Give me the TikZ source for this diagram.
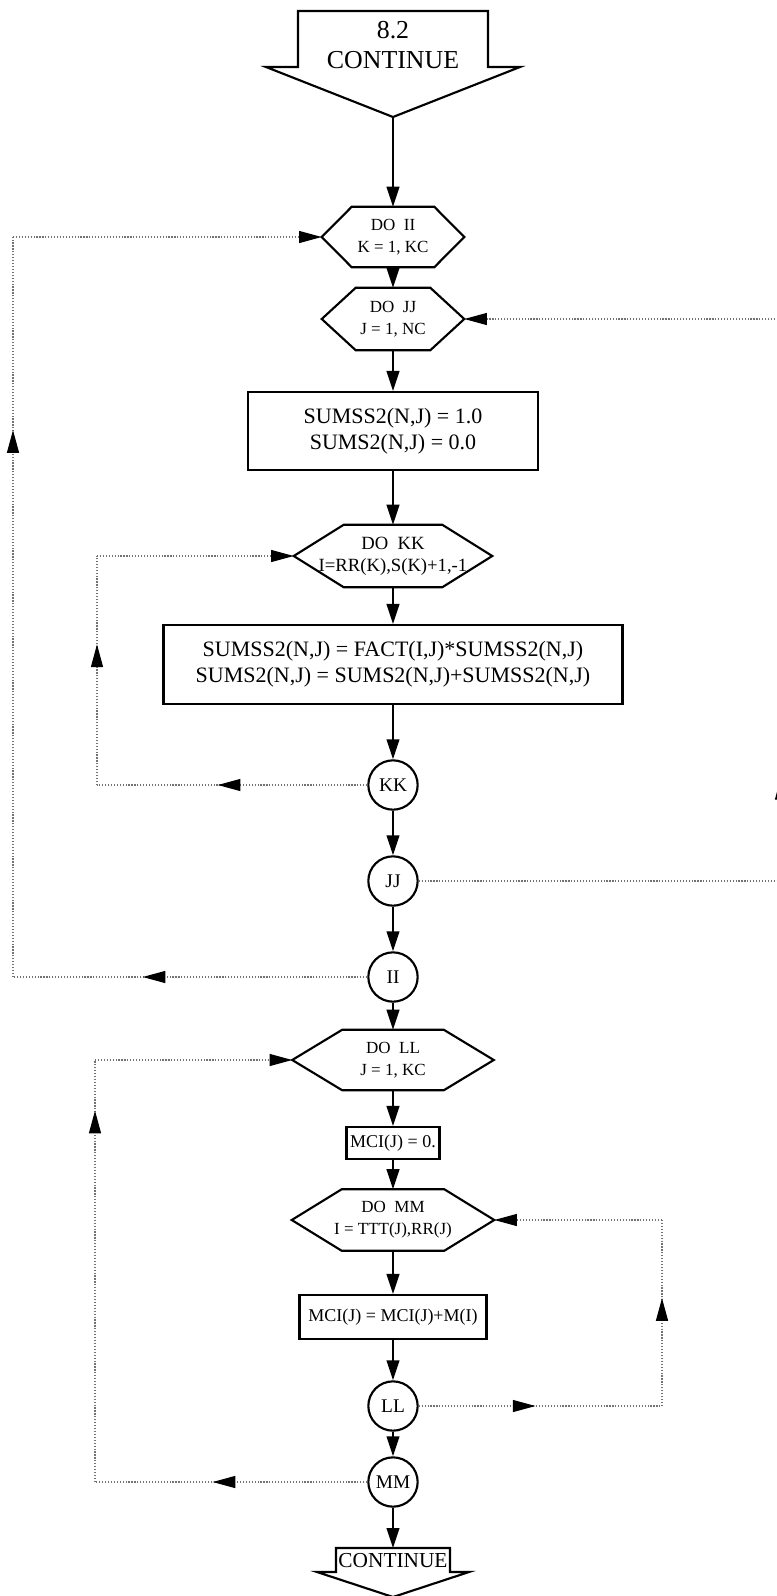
\documentclass[tikz,border=0pt]{standalone}
\usepackage{fontspec}
\setmainfont{Liberation Serif}
\usetikzlibrary{arrows.meta,decorations.markings}
\newcommand\hexfont{\fontsize{12.75pt}{16.5pt}\selectfont}
\newcommand\kkfont{\fontsize{14pt}{16.5pt}\selectfont}
\newcommand\boxfont{\fontsize{16.5pt}{19.5pt}\selectfont}
\newcommand\smallboxfont{\fontsize{13.5pt}{16pt}\selectfont}
\newcommand\bigfont{\fontsize{19.4pt}{22.5pt}\selectfont}
\newcommand\botfont{\fontsize{16pt}{18pt}\selectfont}
\newcommand\circfont{\fontsize{14.5pt}{16pt}\selectfont}
\newcommand\hexdraw[2]{\draw[flow] (#1.west) -- ([xshift={#2*0.75pt}]#1.north west) -- ([xshift={-#2*0.75pt}]#1.north east) -- (#1.east) -- ([xshift={-#2*0.75pt}]#1.south east) -- ([xshift={#2*0.75pt}]#1.south west) -- cycle;}
\begin{document}
\begin{tikzpicture}[x=0.75pt,y=-0.75pt,
  flow/.style={line width=1.6pt, line join=miter},
  arr/.style={flow,-{Triangle[length=15pt,width=9.5pt]}},
  dots/.style={line width=0.9pt, color=black!55, dash pattern=on 0.9pt off 1.3pt},
  dotarr/.style={dots,-{Triangle[length=17pt,width=9pt,color=black]}},
  midarrow/.style={postaction={decorate,decoration={markings,mark=at position #1 with {\arrow{Triangle[length=17pt,width=9pt,color=black]}}}}},
  hexnode/.style={inner sep=0pt, align=center, font=\hexfont},
  boxnode/.style={draw, flow, inner sep=0pt, align=center, font=\boxfont},
  circnode/.style={draw, flow, circle, inner sep=0pt, minimum size=37pt, font=\circfont}
]
\useasboundingbox (0,0) rectangle (777,1596);
\fill[white] (0,0) rectangle (777,1596);

% top continue arrow
\draw[flow] (298,11) -- (488,11) -- (488,67) -- (520,67) -- (393,117) -- (266,67) -- (298,67) -- cycle;
\node[align=center, font=\bigfont, inner sep=0pt] (topcont) at (393,45) {8.2\\CONTINUE};
\coordinate (toptip) at (393,117);

% DO II
\node[hexnode, minimum width={142*0.75pt}, minimum height={60*0.75pt}] (doii) at (393,237) {DO\enspace II\\K = 1, KC};
\hexdraw{doii}{30}
% DO JJ
\node[hexnode, minimum width={142*0.75pt}, minimum height={62*0.75pt}] (dojj) at (393,319) {DO\enspace JJ\\J = 1, NC};
\hexdraw{dojj}{34}
% box 1
\node[boxnode, minimum width={290*0.75pt}, minimum height={78*0.75pt}] (box1) at (393,431) {SUMSS2(N,J) = 1.0\\SUMS2(N,J) = 0.0};
% DO KK
\node[hexnode, font=\kkfont, minimum width={198*0.75pt}, minimum height={62*0.75pt}] (dokk) at (393,556) {DO\enspace KK\\I=RR(K),S(K)+1,-1};
\hexdraw{dokk}{50}
% box 2
\node[boxnode, minimum width={459*0.75pt}, minimum height={79*0.75pt}] (box2) at (393,664.5) {SUMSS2(N,J) = FACT(I,J)*SUMSS2(N,J)\\SUMS2(N,J) = SUMS2(N,J)+SUMSS2(N,J)};
% circles
\node[circnode] (kk) at (393,785) {KK};
\node[circnode] (jj) at (393,881) {JJ};
\node[circnode] (ii) at (393,977) {II};
% DO LL
\node[hexnode, minimum width={201*0.75pt}, minimum height={60*0.75pt}] (doll) at (393,1060) {DO\enspace LL\\J = 1, KC};
\hexdraw{doll}{50}
% MCI(J) = 0.
\node[boxnode, font=\smallboxfont, minimum width={93*0.75pt}, minimum height={32*0.75pt}] (mci0) at (393,1143) {MCI(J) = 0.};
% DO MM
\node[hexnode, minimum width={202*0.75pt}, minimum height={61*0.75pt}] (domm) at (393,1220) {DO\enspace MM\\I = TTT(J),RR(J)};
\hexdraw{domm}{50}
% MCI(J)=MCI(J)+M(I)
\node[boxnode, font=\smallboxfont, minimum width={187*0.75pt}, minimum height={44*0.75pt}] (mcim) at (393,1317) {MCI(J) = MCI(J)+M(I)};
\node[circnode] (ll) at (393,1406) {LL};
\node[circnode] (mm) at (393,1482) {MM};

% bottom continue arrow
\draw[flow] (336,1548) -- (450,1548) -- (450,1572) -- (469,1572) -- (393,1597) -- (317,1572) -- (336,1572) -- cycle;
\node[font=\botfont, inner sep=0pt] (botcont) at (393,1561) {CONTINUE};
\coordinate (bottop) at (393,1548);

% main flow
\draw[arr] (toptip) -- (doii.north);
\draw[arr] (doii.south) -- (dojj.north);
\draw[arr] (dojj.south) -- (box1.north);
\draw[arr] (box1.south) -- (dokk.north);
\draw[arr] (dokk.south) -- (box2.north);
\draw[arr] (box2.south) -- (kk.north);
\draw[arr] (kk.south) -- (jj.north);
\draw[arr] (jj.south) -- (ii.north);
\draw[arr] (ii.south) -- (doll.north);
\draw[arr] (doll.south) -- (mci0.north);
\draw[arr] (mci0.south) -- (domm.north);
\draw[arr] (domm.south) -- (mcim.north);
\draw[arr] (mcim.south) -- (ll.north);
\draw[arr] (ll.south) -- (mm.north);
\draw[arr] (mm.south) -- (bottop);

% loop II
\coordinate (ia) at (13,977);
\coordinate (ib) at (13,237);
\draw[dots, midarrow=0.634] (ii.west) -- (ia);
\draw[dots, midarrow=0.739] (ia) -- (ib);
\draw[dotarr] (ib) -- (doii.west);

% loop KK
\coordinate (ka) at (97,785);
\coordinate (kb) at (97,556);
\draw[dots, midarrow=0.553] (kk.west) -- (ka);
\draw[dots, midarrow=0.614] (ka) -- (kb);
\draw[dotarr] (kb) -- (dokk.west);

% loop JJ
\coordinate (ja) at (781,881);
\coordinate (jb) at (781,319);
\draw[dots] (jj.east) -- (ja);
\draw[dots, midarrow=0.185] (ja) -- (jb);
\draw[dotarr] (jb) -- (dojj.east);

% loop MM (left)
\coordinate (ma) at (95,1482);
\coordinate (mb) at (95,1060);
\draw[dots, midarrow=0.568] (mm.west) -- (ma);
\draw[dots, midarrow=0.88] (ma) -- (mb);
\draw[dotarr] (mb) -- (doll.west);

% loop LL (right)
\coordinate (la) at (662,1406);
\coordinate (lb) at (662,1220);
\draw[dots, midarrow=0.48] (ll.east) -- (la);
\draw[dots, midarrow=0.58] (la) -- (lb);
\draw[dotarr] (lb) -- (domm.east);
\end{tikzpicture}
\end{document}
